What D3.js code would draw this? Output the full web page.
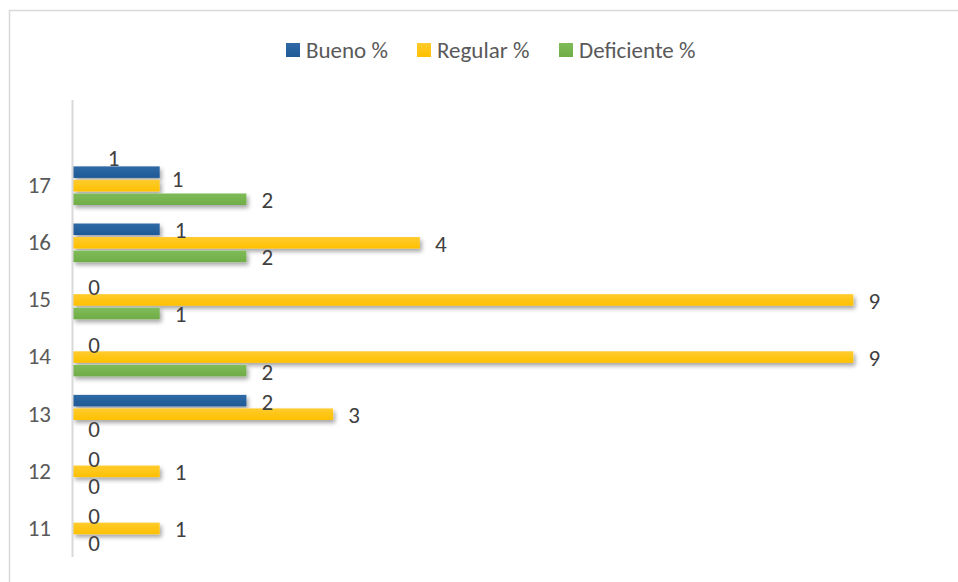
<!DOCTYPE html>
<html>
<head>
<meta charset="utf-8">
<script src="https://cdn.jsdelivr.net/npm/d3@7"></script>
<style>
  html, body { margin: 0; padding: 0; background: #fff; }
  svg { display: block; }
  text { font-family: Carlito, Calibri, Lato, "Open Sans", sans-serif; }
</style>
</head>
<body>
<svg id="chart" width="958" height="582"></svg>
<script>
// ---- data ----
const categories = ["11", "12", "13", "14", "15", "16", "17", ""];
const seriesNames = ["Bueno %", "Regular %", "Deficiente %"];
const bueno      = [0, 0, 2, 0, 0, 1, 1];
const regular    = [1, 1, 3, 9, 9, 4, 1];
const deficiente = [0, 0, 0, 2, 1, 2, 2];

// ---- styles ----
const colors = ["#1f5a96", "#ffc000", "#70ad47"];
const colorsLight = ["#2f6aa6", "#ffcb2e", "#7fbb58"];
const fontSize = 23;
// manual label nudges (pixels) for overlapping labels, as in the original
const labelNudge = { "0|17": [-67, -15], "1|17": [-3, -8] };

const seriesValues = [bueno, regular, deficiente];
const svg = d3.select("#chart");
const W = 958, H = 582;

// outer chart border (extends beyond the cropped picture)
svg.append("rect")
  .attr("x", 9.5).attr("y", 10.5)
  .attr("width", W + 20).attr("height", H + 20)
  .attr("fill", "#fff").attr("stroke", "#d9d9d9").attr("stroke-width", 1.5);

const defs = svg.append("defs");
const filt = defs.append("filter").attr("id", "shadow")
  .attr("x", "-5%").attr("y", "-40%").attr("width", "115%").attr("height", "200%");
filt.append("feDropShadow").attr("dx", 2).attr("dy", 3).attr("stdDeviation", 2)
  .attr("flood-color", "#000").attr("flood-opacity", 0.35);
seriesNames.forEach((s, i) => {
  const g = defs.append("linearGradient").attr("id", "grad" + i)
    .attr("x1", 0).attr("y1", 0).attr("x2", 0).attr("y2", 1);
  g.append("stop").attr("offset", "0%").attr("stop-color", colorsLight[i]);
  g.append("stop").attr("offset", "100%").attr("stop-color", colors[i]);
});

// ---- scales ----
const x = d3.scaleLinear().domain([0, 10]).range([73, 940]);
const y = d3.scaleBand().domain(categories).range([557, 100]).paddingInner(0).paddingOuter(0);
const inner = d3.scaleBand().domain(seriesNames).range([0, 40]).paddingInner(0.15).paddingOuter(0.05);

// ---- bars ----
const rows = [];
categories.forEach((c, ci) => {
  if (ci >= bueno.length) return;
  seriesNames.forEach((s, si) => {
    rows.push({ cat: c, si, s, v: seriesValues[si][ci] });
  });
});

const barTop = d => y(d.cat) + y.bandwidth() / 2 - 20 + inner(d.s);

svg.append("g").attr("filter", "url(#shadow)")
  .selectAll("rect").data(rows.filter(d => d.v > 0)).join("rect")
  .attr("x", x(0))
  .attr("y", barTop)
  .attr("width", d => x(d.v) - x(0))
  .attr("height", inner.bandwidth())
  .attr("fill", d => `url(#grad${d.si})`);

// ---- axis line ----
svg.append("line")
  .attr("x1", 72.5).attr("x2", 72.5)
  .attr("y1", y.range()[1]).attr("y2", y.range()[0])
  .attr("stroke", "#d9d9d9").attr("stroke-width", 2);

// ---- category labels ----
const yAxis = d3.axisLeft(y).tickSize(0).tickPadding(22);
const ga = svg.append("g").attr("transform", "translate(73,0)").call(yAxis);
ga.select(".domain").remove();
ga.selectAll("text")
  .attr("font-family", "Carlito, Calibri, Lato, 'Open Sans', sans-serif")
  .attr("font-size", fontSize).attr("fill", "#595959");

// ---- data labels ----
svg.append("g").selectAll("text").data(rows).join("text")
  .attr("x", d => x(d.v) + 21 + ((labelNudge[d.si + "|" + d.cat] || [0, 0])[0]))
  .attr("y", d => barTop(d) + inner.bandwidth() / 2 + 1 + ((labelNudge[d.si + "|" + d.cat] || [0, 0])[1]))
  .attr("text-anchor", "middle")
  .attr("dominant-baseline", "central")
  .attr("font-size", fontSize).attr("fill", "#404040")
  .text(d => d.v);

// ---- legend ----
const legendX = [286, 417, 559];
const lg = svg.append("g");
seriesNames.forEach((s, i) => {
  lg.append("rect").attr("x", legendX[i]).attr("y", 43).attr("width", 14).attr("height", 14)
    .attr("fill", `url(#grad${i})`);
  lg.append("text").attr("x", legendX[i] + 20).attr("y", 50)
    .attr("dominant-baseline", "central")
    .attr("font-size", fontSize).attr("fill", "#595959").text(s);
});
</script>
</body>
</html>
